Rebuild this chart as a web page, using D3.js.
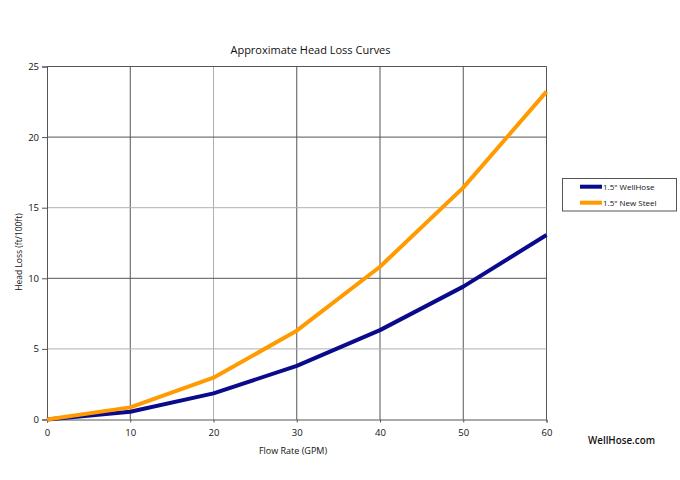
<!DOCTYPE html>
<html><head><meta charset="utf-8">
<script src="https://cdn.jsdelivr.net/npm/d3@7"></script>
<style>body{margin:0;background:#fff}svg{display:block}text{font-family:"Open Sans","Noto Sans",sans-serif;fill:#111}</style>
</head><body>
<script>
const flowRates = [0, 10, 20, 30, 40, 50, 60];
const wellHose = [0, 0.55, 1.85, 3.8, 6.33, 9.41, 13.07];
const newSteel = [0, 0.86, 2.96, 6.29, 10.82, 16.42, 23.22];
const xTicks = [0, 10, 20, 30, 40, 50, 60];
const yTicks = [0, 5, 10, 15, 20, 25];
const seriesNames = ["1.5\" WellHose", "1.5\" New Steel"];
const seriesColors = ["#0a0a8c", "#ff9a00"];
const lightGridX = [20];
const lightGridY = [5, 15];

const W = 680, H = 480;
const svg = d3.select("body").append("svg").attr("width", W).attr("height", H);
const x = d3.scaleLinear().domain([0, 60]).range([47, 546.5]);
const y = d3.scaleLinear().domain([0, 25]).range([419.5, 66.5]);

// grid
svg.append("g").selectAll("line").data(xTicks.slice(1)).join("line")
  .attr("x1", d => x(d)).attr("x2", d => x(d)).attr("y1", y(25)).attr("y2", y(0))
  .attr("stroke", d => lightGridX.includes(d) ? "#b0b0b0" : "#555").attr("stroke-width", 1);
svg.append("g").selectAll("line").data(yTicks.slice(1)).join("line")
  .attr("x1", x(0)).attr("x2", x(60)).attr("y1", d => y(d)).attr("y2", d => y(d))
  .attr("stroke", d => lightGridY.includes(d) ? "#b0b0b0" : "#555").attr("stroke-width", 1);

// axes
const xAxis = svg.append("g").attr("transform", `translate(0,${y(0)})`)
  .call(d3.axisBottom(x).tickValues(xTicks).tickSize(3).tickPadding(7).tickFormat(d3.format("d")));
const yAxis = svg.append("g").attr("transform", `translate(${x(0)},0)`)
  .call(d3.axisLeft(y).tickValues(yTicks).tickSize(5).tickPadding(3).tickFormat(d3.format("d")));
[xAxis, yAxis].forEach(a => {
  a.select(".domain").attr("stroke", "#555");
  a.selectAll(".tick line").attr("stroke", "#555");
  a.selectAll("text").style("font-size", "9.5px").attr("fill", "#111");
});

// lines
const line = d3.line().x((d, i) => x(flowRates[i])).y(d => y(d));
[wellHose, newSteel].forEach((s, k) => {
  svg.append("path").datum(s).attr("d", line).attr("fill", "none")
    .attr("stroke", seriesColors[k]).attr("stroke-width", 4).attr("stroke-linejoin", "round");
});

// title & labels
svg.append("text").attr("x", 310.5).attr("y", 54).attr("text-anchor", "middle")
  .style("font-size", "11px").text("Approximate Head Loss Curves");
svg.append("text").attr("x", 293).attr("y", 454).attr("text-anchor", "middle")
  .style("font-size", "9px").text("Flow Rate (GPM)");
svg.append("text").attr("transform", "translate(22,252) rotate(-90)").attr("text-anchor", "middle")
  .style("font-size", "8.5px").text("Head Loss (ft/100ft)");

// legend
const lg = svg.append("g");
lg.append("rect").attr("x", 562.5).attr("y", 178.5).attr("width", 114).attr("height", 32.5)
  .attr("fill", "#fff").attr("stroke", "#555").attr("stroke-width", 1);
seriesNames.forEach((n, k) => {
  const yy = 186.7 + k * 16;
  lg.append("line").attr("x1", 580).attr("x2", 602).attr("y1", yy).attr("y2", yy)
    .attr("stroke", seriesColors[k]).attr("stroke-width", 4);
  lg.append("text").attr("x", 603).attr("y", yy + 3).style("font-size", "8px").text(n);
});

svg.append("text").attr("x", 588).attr("y", 444).style("font-size", "9.8px")
  .style("font-weight", "600").text("WellHose.com");
</script>
</body></html>
